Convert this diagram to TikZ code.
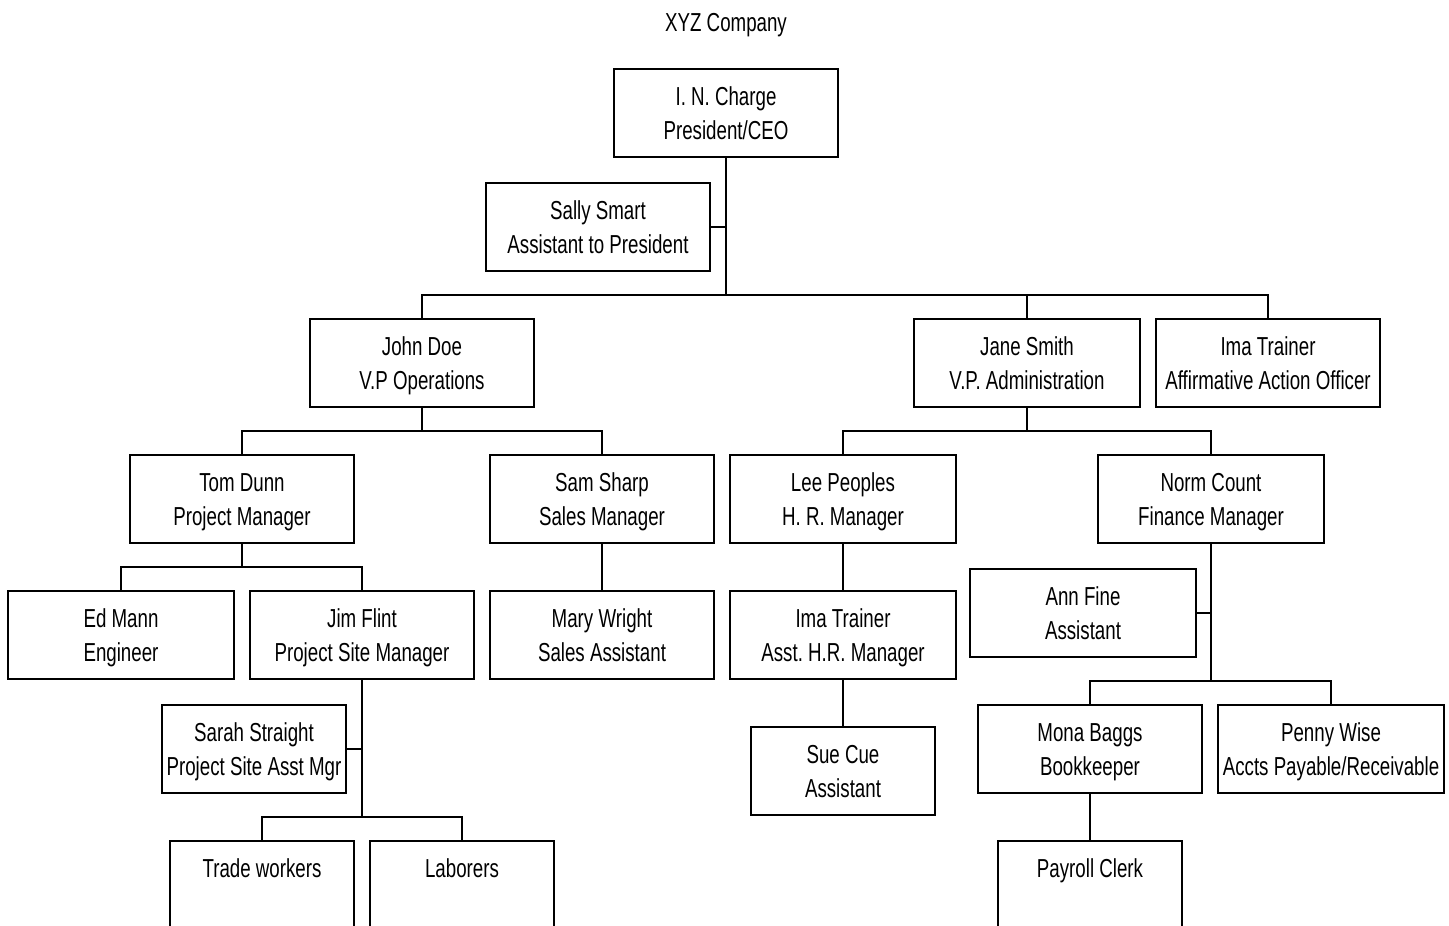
\documentclass[tikz,border=0pt]{standalone}
\usepackage{fontspec}
\setmainfont{Liberation Sans}[FakeStretch=0.72]
\usepackage{tikz}
\frenchspacing

\tikzset{
  box/.style={draw, line width=2pt, minimum width=224pt, minimum height=88pt,
    inner sep=0pt, align=center, text height=54pt, text depth=1.4pt,
    font=\fontsize{26}{34}\selectfont},
  smallbox/.style={box, minimum width=184pt},
  conn/.style={line width=1.6pt}
}

\begin{document}
\begin{tikzpicture}[x=1pt,y=-1pt]
\useasboundingbox (0,0) rectangle (1449,926);
\clip (0,0) rectangle (1449,926);
% Titulo
\node[font=\fontsize{26}{34}\selectfont, text height=19pt, text depth=0pt,
  inner sep=0pt] (title) at (726,22) {XYZ Company};
% Direcao
\node[box] (ceo) at (726,113) {I. N. Charge\\President/CEO};
\node[box] (sally) at (598,227) {Sally Smart\\Assistant to President};
% Vice-presidentes
\node[box] (john) at (422,363) {John Doe\\V.P Operations};
\node[box,minimum width=226pt] (jane) at (1027,363) {Jane Smith\\V.P. Administration};
\node[box] (ima) at (1268,363) {Ima Trainer\\Affirmative Action Officer};
% Gerentes
\node[box] (tom) at (242,499) {Tom Dunn\\Project Manager};
\node[box] (sam) at (602,499) {Sam Sharp\\Sales Manager};
\node[box,minimum width=226pt] (lee) at (843,499) {Lee Peoples\\H. R. Manager};
\node[box,minimum width=226pt] (norm) at (1211,499) {Norm Count\\Finance Manager};
% Equipe
\node[box,minimum width=226pt] (ed) at (121,635) {Ed Mann\\Engineer};
\node[box] (jim) at (362,635) {Jim Flint\\Project Site Manager};
\node[box] (mary) at (602,635) {Mary Wright\\Sales Assistant};
\node[box,minimum width=226pt] (imaa) at (843,635) {Ima Trainer\\Asst. H.R. Manager};
\node[box,minimum width=226pt] (ann) at (1083,613) {Ann Fine\\Assistant};
\node[smallbox] (sarah) at (254,749) {Sarah Straight\\Project Site Asst Mgr};
\node[smallbox] (sue) at (843,771) {Sue Cue\\Assistant};
\node[box] (mona) at (1090,749) {Mona Baggs\\Bookkeeper};
\node[box,minimum width=226pt] (penny) at (1331,749) {Penny Wise\\Accts Payable/Receivable};
\node[smallbox] (trade) at (262,885) {Trade workers\\~};
\node[smallbox] (labor) at (462,885) {Laborers\\~};
\node[smallbox] (payroll) at (1090,885) {Payroll Clerk\\~};
% Pontos de juncao
\coordinate (ceoBar) at (726,295);
\coordinate (johnBar) at (422,431);
\coordinate (janeBar) at (1027,431);
\coordinate (tomBar) at (242,567);
\coordinate (normBar) at (1211,681);
\coordinate (jimBar) at (362,817);
% Linhas
\draw[conn] (ceo.south) -- (ceoBar);
\draw[conn] (sally.east) -- (sally.east -| ceo.south);
\draw[conn] (john.north) |- (ceoBar);
\draw[conn] (ima.north) |- (ceoBar);
\draw[conn] (jane.north) -- (jane.north |- ceoBar);
\draw[conn] (john.south) -- (johnBar);
\draw[conn] (tom.north) |- (johnBar);
\draw[conn] (sam.north) |- (johnBar);
\draw[conn] (jane.south) -- (janeBar);
\draw[conn] (lee.north) |- (janeBar);
\draw[conn] (norm.north) |- (janeBar);
\draw[conn] (tom.south) -- (tomBar);
\draw[conn] (ed.north) |- (tomBar);
\draw[conn] (jim.north) |- (tomBar);
\draw[conn] (sam.south) -- (mary.north);
\draw[conn] (lee.south) -- (imaa.north);
\draw[conn] (imaa.south) -- (sue.north);
\draw[conn] (norm.south) -- (normBar);
\draw[conn] (ann.east) -- (ann.east -| norm.south);
\draw[conn] (mona.north) |- (normBar);
\draw[conn] (penny.north) |- (normBar);
\draw[conn] (mona.south) -- (payroll.north);
\draw[conn] (jim.south) -- (jimBar);
\draw[conn] (sarah.east) -- (sarah.east -| jim.south);
\draw[conn] (trade.north) |- (jimBar);
\draw[conn] (labor.north) |- (jimBar);
\end{tikzpicture}
\end{document}
